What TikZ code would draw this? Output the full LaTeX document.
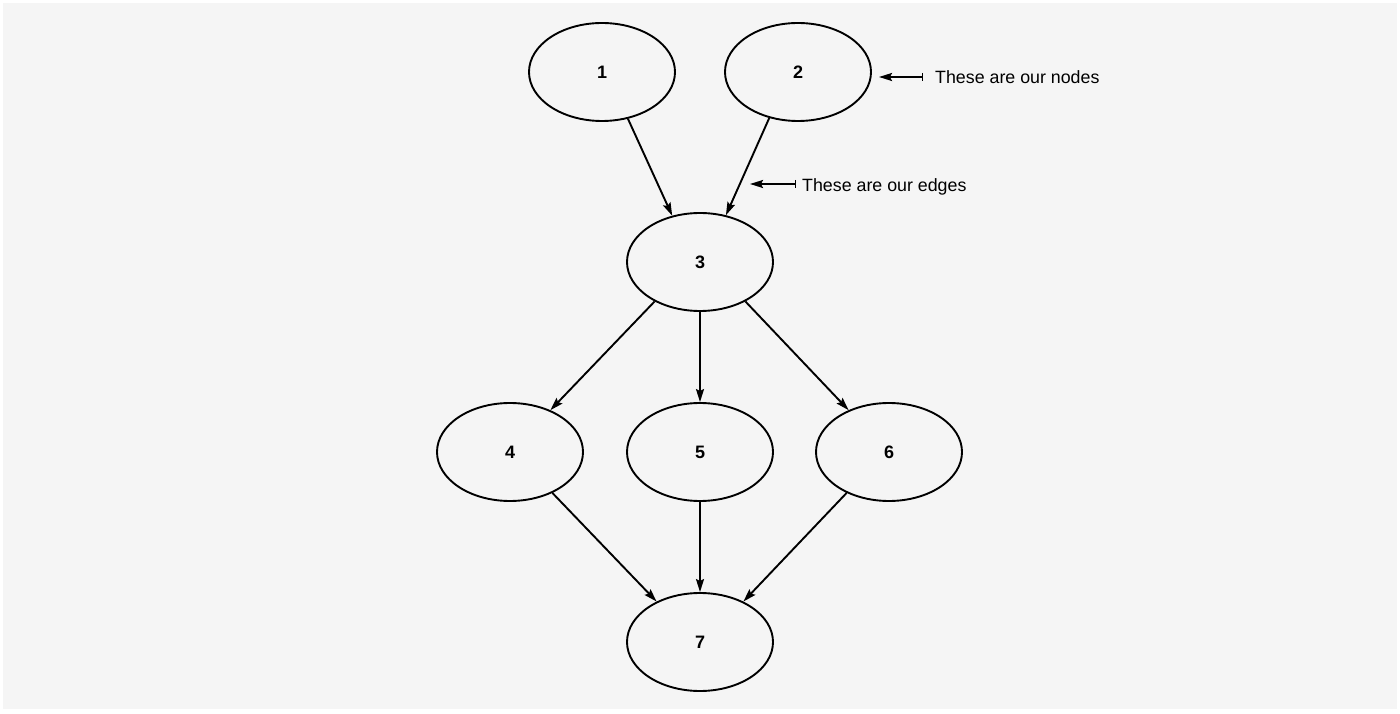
\documentclass[tikz,border=0pt]{standalone}
\usepackage{fontspec}
\setmainfont{Liberation Sans}
\usetikzlibrary{shapes.geometric,arrows.meta}
\definecolor{bgc}{HTML}{F5F5F5}
\tikzset{
  gnode/.style={ellipse, draw=black, line width=1.9pt, minimum width=146pt, minimum height=98pt, inner sep=0pt, font=\fontsize{18}{20}\selectfont\bfseries},
  edge/.style={line width=1.9pt, -{Stealth[length=13pt,width=8pt,inset=2pt]}},
  annot/.style={line width=1.9pt, {Bar[width=8pt,line width=1.2pt]}-{Stealth[length=13pt,width=8pt,inset=2pt]}},
  lbl/.style={anchor=west, inner sep=0pt, font=\fontsize{17.8}{20}\selectfont}
}
\begin{document}
\begin{tikzpicture}[x=1pt,y=1pt]
\useasboundingbox (0,0) rectangle (1400,713);
\fill[white] (0,0) rectangle (1400,713);
\fill[bgc] (3,4) rectangle (1397,710);
\node[gnode] (n1) at (602,641) {1};
\node[gnode] (n2) at (798,641) {2};
\node[gnode] (n3) at (700,451) {3};
\node[gnode] (n4) at (510,261) {4};
\node[gnode] (n5) at (700,261) {5};
\node[gnode] (n6) at (889,261) {6};
\node[gnode] (n7) at (700,71) {7};
\draw[edge] (n1.-61) -- (n3.121);
\draw[edge] (n2.238) -- (n3.61);
\draw[edge] (n3.221) -- (n4.46);
\draw[edge] (n3.270) -- (n5.90);
\draw[edge] (n3.319) -- (n6.134);
\draw[edge] (n4.316) -- (n7.137);
\draw[edge] (n5.270) -- (n7.90);
\draw[edge] (n6.224) -- (n7.43);
\node[lbl] (l1) at (935,636) {These are our nodes};
\node[lbl] (l2) at (802,526.5) {These are our edges};
\coordinate (c1b) at (923,636);
\coordinate (c1) at (879,636);
\coordinate (c2b) at (796,529);
\coordinate (c2) at (750,529);
\draw[annot] (c1b) -- (c1);
\draw[annot] (c2b) -- (c2);
\end{tikzpicture}
\end{document}
